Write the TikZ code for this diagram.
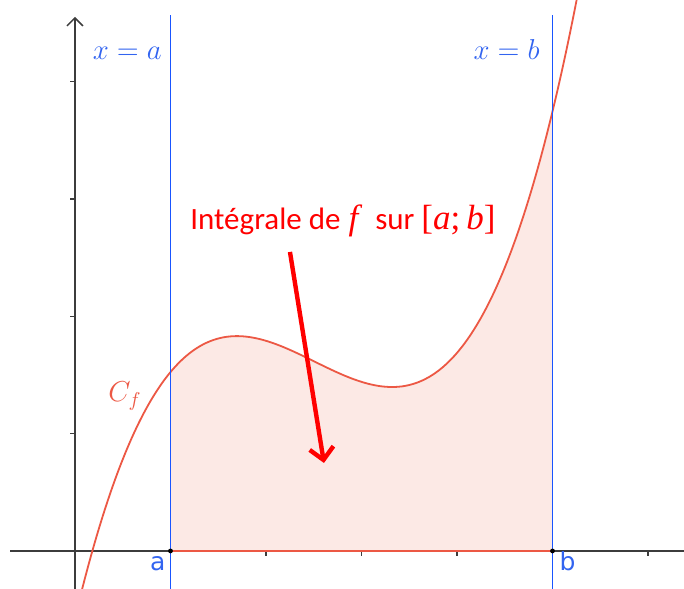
\documentclass[tikz,border=0pt]{standalone}
\usepackage{fontspec}
\setmainfont{Carlito}
\newfontfamily\mathlike{Liberation Serif}
\newfontfamily\ggsans{DejaVu Sans}
\usetikzlibrary{arrows.meta}
\definecolor{curvecol}{RGB}{236,88,68}
\definecolor{fillcol}{RGB}{252,233,229}
\definecolor{linecol}{RGB}{25,85,255}
\definecolor{lblcol}{RGB}{50,100,240}
\definecolor{axiscol}{RGB}{60,60,60}
\definecolor{arrowred}{RGB}{255,0,0}
\begin{document}
\begin{tikzpicture}[x=47.75pt,y=58.65pt,
  declare function={f(\x)=0.2023*\x*\x*\x-1.5221*\x*\x+3.4168*\x-0.572;},
  axisline/.style={draw=axiscol,line width=0.75pt},
  vline/.style={draw=linecol,line width=0.75pt},
  curveline/.style={draw=curvecol,line width=0.9pt},
  eqlbl/.style={text=lblcol,font=\fontsize{14.4}{17}\selectfont,inner sep=0pt},
  ptlbl/.style={text=lblcol,font=\ggsans\fontsize{12.5}{15}\selectfont,inner sep=0pt},
]
\useasboundingbox (-0.7853,-0.324) rectangle (6.377,4.697);
\clip (-0.7853,-0.324) rectangle (6.377,4.697);
% filled region
\fill[fillcol] (1,0) -- plot[domain=1:5,samples=80,smooth] (\x,{f(\x)}) -- (5,0) -- cycle;
% axes
\coordinate (xs) at (-0.68,0);
\coordinate (xe) at (6.377,0);
\coordinate (ys) at (0,-0.324);
\coordinate (ye) at (0,4.553);
\draw[axisline] (xs) -- (xe);
\draw[axisline,-{Straight Barb[length=4pt,width=8pt]}] (ys) -- (ye);
\foreach \t in {1,2,3,4} \draw[axisline] (-0.052,\t) -- (0,\t);
\foreach \t in {2,3,4,6} \draw[axisline] (\t,0) -- (\t,-0.043);
% points a and b
\coordinate (A) at (1,0);
\coordinate (B) at (5,0);
\draw[curveline] (A) -- (B);
% curve
\draw[curveline] plot[domain=0.03:5.3,samples=150,smooth] (\x,{f(\x)});
% vertical lines
\coordinate (at) at (1,4.569);
\coordinate (ab) at (1,-0.324);
\coordinate (bt) at (5,4.569);
\coordinate (bb) at (5,-0.324);
\draw[vline] (ab) -- (at);
\draw[vline] (bb) -- (bt);
\fill[black] (A) circle (1.2pt);
\fill[black] (B) circle (1.2pt);
% labels
\node[eqlbl,anchor=base east] (la) at (0.911,4.186) {$x=a$};
\node[eqlbl,anchor=base east] (lb) at (4.869,4.186) {$x=b$};
\node[ptlbl,anchor=base east] (pa) at (0.95,-0.17) {a};
\node[ptlbl,anchor=base west] (pb) at (5.07,-0.17) {b};
\node[text=curvecol,font=\fontsize{14.4}{17}\selectfont,inner sep=0pt,anchor=base west] (cf) at (0.346,1.27) {$C_f$};
% annotation
\node[text=arrowred,font=\fontsize{15.5}{18}\selectfont,inner sep=0pt,anchor=base west] (txt) at (1.204,2.737)
  {Intégrale de\hspace{4pt}{\mathlike\fontsize{17.5}{18}\selectfont\itshape f}\hspace{5pt} sur {\mathlike\fontsize{17.5}{18}\selectfont[\textit{a};\hspace{3pt}\textit{b}]}};
\coordinate (arS) at (2.251,2.549);
\coordinate (arE) at (2.607,0.750);
\draw[draw=arrowred,line width=2.2pt,-{Straight Barb[length=6pt,width=12pt]}] (arS) -- (arE);
\end{tikzpicture}
\end{document}
